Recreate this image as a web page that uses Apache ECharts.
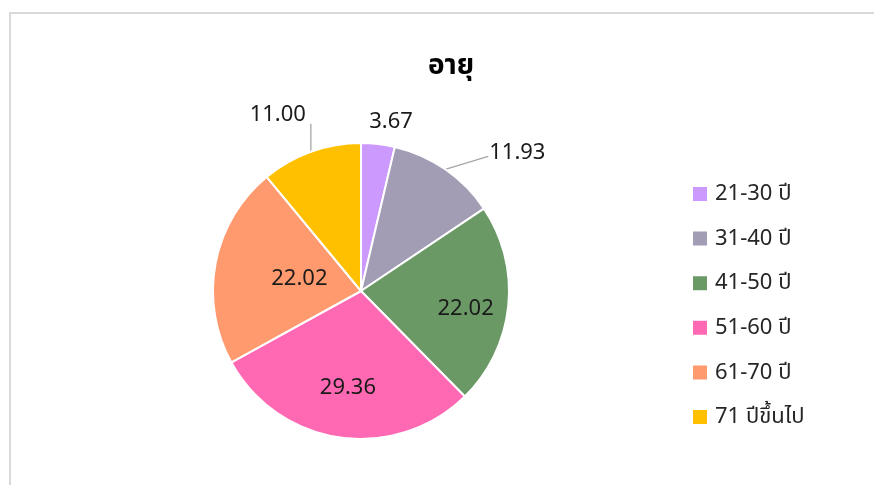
<!DOCTYPE html>
<html>
<head>
<meta charset="utf-8">
<script src="https://cdn.jsdelivr.net/npm/echarts@6/dist/echarts.min.js"></script>
<style>
html, body { margin: 0; padding: 0; background: #fff; }
#main { width: 874px; height: 485px; }
</style>
</head>
<body>
<div id="main"></div>
<script>
var categories = ['21-30 ปี', '31-40 ปี', '41-50 ปี', '51-60 ปี', '61-70 ปี', '71 ปีขึ้นไป'];
var values = [3.67, 11.93, 22.02, 29.36, 22.02, 11.00];
var colors = ['#CC99FF', '#A29DB4', '#6A9966', '#FF69B4', '#FF9A6E', '#FFC000'];

var fontFam = '"Noto Sans", "Noto Sans Thai", "DejaVu Sans", sans-serif';

// inside labels get nudged, small slices go outside
var labelCfg = [
    { position: 'outside' },
    { position: 'outside' },
    { position: 'inside', offset: [28, 10] },
    { position: 'inside', offset: [-2, 21] },
    { position: 'inside', offset: [14, 2] },
    { position: 'outside' }
];

var myChart = echarts.init(document.getElementById('main'));

var pieData = categories.map(function (name, i) {
    return {
        name: name,
        value: values[i],
        itemStyle: { color: colors[i] },
        label: labelCfg[i],
        labelLine: { show: i == 1 || i == 5 }
    };
});

option = {
    animation: false,
    title: {
        text: 'อายุ',
        left: 446,
        top: 47,
        textAlign: 'center',
        textStyle: { fontFamily: fontFam, fontSize: 28, fontWeight: 'bold', color: '#000' }
    },
    graphic: [
        {
            type: 'polyline',
            shape: { points: [[10, 490], [10, 13], [880, 13]] },
            style: { stroke: '#d9d9d9', lineWidth: 2, fill: null }
        }
    ],
    legend: {
        orient: 'vertical',
        left: 686,
        top: 174,
        itemWidth: 16,
        itemHeight: 16,
        itemGap: 14.6,
        icon: 'rect',
        data: categories,
        textStyle: { fontFamily: fontFam, fontSize: 22, lineHeight: 30, color: '#262626', padding: [0, 0, 0, 2] }
    },
    series: [
        {
            name: 'อายุ',
            type: 'pie',
            center: [361, 291],
            radius: [0, 148],
            startAngle: 90,
            clockwise: true,
            label: {
                show: true,
                formatter: function (p) { return p.value.toFixed(2); },
                fontFamily: fontFam,
                fontSize: 22,
                color: '#1a1a1a'
            },
            labelLine: {
                lineStyle: { color: '#a6a6a6', width: 1.3 },
                smooth: false
            },
            labelLayout: function (p) {
                var pts = p.labelLinePoints;
                if (!pts) return {};
                var s = pts[0];
                if (p.dataIndex == 0) {
                    return { x: s[0] + 13, y: s[1] - 22, align: 'center', verticalAlign: 'middle' };
                }
                if (p.dataIndex == 1) {
                    return {
                        x: s[0] + 44, y: s[1] - 17, align: 'left', verticalAlign: 'middle',
                        labelLinePoints: [s, [s[0] + 43, s[1] - 13], [s[0] + 43, s[1] - 13]]
                    };
                }
                if (p.dataIndex == 5) {
                    return {
                        x: s[0] - 5, y: s[1] - 37, align: 'right', verticalAlign: 'middle',
                        labelLinePoints: [s, [s[0], s[1] - 28], [s[0], s[1] - 28]]
                    };
                }
                return {};
            },
            itemStyle: { borderColor: '#fff', borderWidth: 2 },
            emphasis: { disabled: true },
            data: pieData
        }
    ]
};

myChart.setOption(option, true);
</script>
</body>
</html>
